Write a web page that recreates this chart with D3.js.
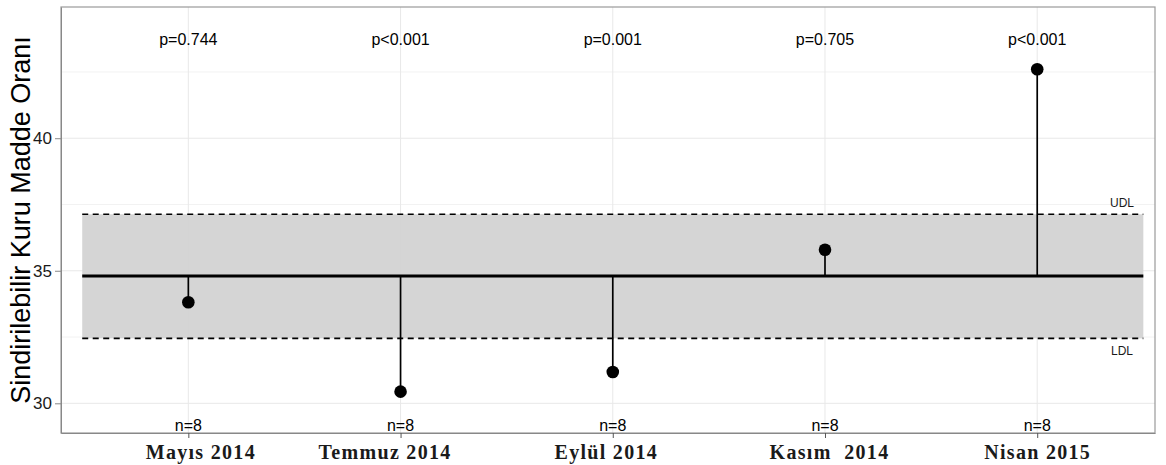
<!DOCTYPE html>
<html><head><meta charset="utf-8">
<script src="https://cdn.jsdelivr.net/npm/d3@7"></script>
<style>body{margin:0;background:#fff;}svg{display:block;}</style>
</head><body>
<svg id="c" width="1166" height="465"></svg>
<script>
const categories = ["Mayıs 2014","Temmuz 2014","Eylül 2014","Kasım  2014","Nisan 2015"];
const values = [33.81, 30.44, 31.18, 35.79, 42.6];
const pLabels = ["p=0.744","p<0.001","p=0.001","p=0.705","p<0.001"];
const nLabels = ["n=8","n=8","n=8","n=8","n=8"];
const meanValue = 34.8;
const udlValue = 37.13;
const ldlValue = 32.45;
const yTicks = [30, 35, 40];
const yMinor = [32.5, 37.5, 42.5];

const svg = d3.select("#c");
const L = 61, R = 1155, T = 7, B = 433;
// horizontal nudges of the category labels as placed in the original figure (layout only)
const labelNudge = [12, -16, -7, 4, 0];
const x = d3.scaleLinear().domain([0.4, 5.555]).range([L, R]);
const y = d3.scaleLinear().domain([28.88, 44.95]).range([B, T]);
const xi = i => x(i + 1);

// grid
const g = svg.append("g");
g.selectAll(".ym").data(yMinor).join("line")
  .attr("x1", L).attr("x2", R).attr("y1", d => y(d)).attr("y2", d => y(d))
  .attr("stroke", "#f2f2f2").attr("stroke-width", 1);
g.selectAll(".yM").data(yTicks).join("line")
  .attr("x1", L).attr("x2", R).attr("y1", d => y(d)).attr("y2", d => y(d))
  .attr("stroke", "#e8e8e8").attr("stroke-width", 1);
g.selectAll(".xg").data(categories).join("line")
  .attr("x1", (d, i) => xi(i)).attr("x2", (d, i) => xi(i)).attr("y1", T).attr("y2", B)
  .attr("stroke", "#e8e8e8").attr("stroke-width", 1);

// band
svg.append("rect").attr("x", x(0.5)).attr("width", x(5.5) - x(0.5))
  .attr("y", y(udlValue)).attr("height", y(ldlValue) - y(udlValue))
  .attr("fill", "#d3d3d3").attr("fill-opacity", 0.95);

// dashed limits
[udlValue, ldlValue].forEach(v => {
  svg.append("line").attr("x1", x(0.5)).attr("x2", x(5.5)).attr("y1", y(v)).attr("y2", y(v))
    .attr("stroke", "#000").attr("stroke-width", 1.6).attr("stroke-dasharray", "6,4.5");
});

// segments
svg.selectAll(".seg").data(values).join("line")
  .attr("x1", (d, i) => xi(i)).attr("x2", (d, i) => xi(i))
  .attr("y1", y(meanValue)).attr("y2", d => y(d))
  .attr("stroke", "#000").attr("stroke-width", 1.7);

// mean line
svg.append("line").attr("x1", x(0.5)).attr("x2", x(5.5)).attr("y1", y(meanValue)).attr("y2", y(meanValue))
  .attr("stroke", "#000").attr("stroke-width", 3);

// points
svg.selectAll(".pt").data(values).join("circle")
  .attr("cx", (d, i) => xi(i)).attr("cy", d => y(d)).attr("r", 6.3).attr("fill", "#000");

// labels UDL/LDL
svg.append("text").attr("x", 1122).attr("y", y(udlValue) - 7).attr("text-anchor", "middle")
  .attr("font-family", "Liberation Sans, Arial, sans-serif").attr("font-size", 12).attr("fill", "#1a1a1a").text("UDL");
svg.append("text").attr("x", 1122).attr("y", y(ldlValue) + 17).attr("text-anchor", "middle")
  .attr("font-family", "Liberation Sans, Arial, sans-serif").attr("font-size", 12).attr("fill", "#1a1a1a").text("LDL");

// p labels and n labels
svg.selectAll(".pl").data(pLabels).join("text")
  .attr("x", (d, i) => xi(i)).attr("y", 45).attr("text-anchor", "middle")
  .attr("font-family", "Liberation Sans, Arial, sans-serif").attr("font-size", 16).attr("fill", "#000").text(d => d);
svg.selectAll(".nl").data(nLabels).join("text")
  .attr("x", (d, i) => xi(i)).attr("y", 430.5).attr("text-anchor", "middle")
  .attr("font-family", "Liberation Sans, Arial, sans-serif").attr("font-size", 16).attr("fill", "#000").text(d => d);

// panel border
svg.append("rect").attr("x", L).attr("y", T).attr("width", R - L).attr("height", B - T)
  .attr("fill", "none").attr("stroke", "#9a9a9a").attr("stroke-width", 1.2);

// y axis
const ya = svg.append("g").attr("transform", `translate(${L},0)`)
  .call(d3.axisLeft(y).tickValues(yTicks).tickSizeInner(6).tickSizeOuter(0).tickPadding(3).tickFormat(d3.format("d")));
ya.select(".domain").attr("stroke", "#888");
ya.selectAll(".tick line").attr("stroke", "#888");
ya.selectAll("text").attr("font-family", "Liberation Sans, Arial, sans-serif").attr("font-size", 17).attr("fill", "#1a1a1a");

// x axis
const xa = svg.append("g").attr("transform", `translate(0,${B})`)
  .call(d3.axisBottom(x).tickValues([1,2,3,4,5]).tickSizeInner(5).tickSizeOuter(0).tickPadding(7).tickFormat(d => categories[d - 1]));
xa.select(".domain").attr("stroke", "#888");
xa.selectAll(".tick line").attr("stroke", "#555");
xa.selectAll(".tick text").attr("dx", (d) => labelNudge[d - 1])
  .attr("font-family", "Liberation Serif, Times New Roman, serif").attr("font-weight", "bold")
  .attr("font-size", 20).attr("letter-spacing", "1.3px").attr("fill", "#1a1a1a")
  .style("white-space", "pre").attr("xml:space", "preserve");

// y title
svg.append("text").attr("transform", `translate(30,${(T + B) / 2}) rotate(-90)`)
  .attr("text-anchor", "middle").attr("font-family", "Liberation Sans, Arial, sans-serif")
  .attr("font-size", 27).attr("fill", "#000").text("Sindirilebilir Kuru Madde Oranı");
</script>
</body></html>
